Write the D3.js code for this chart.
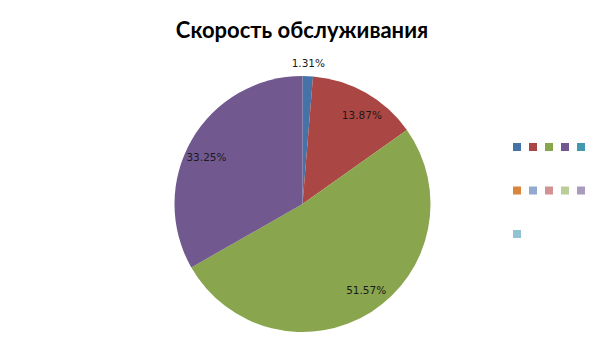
<!DOCTYPE html>
<html>
<head>
<meta charset="utf-8">
<script src="https://cdn.jsdelivr.net/npm/d3@7"></script>
<style>
  body { margin: 0; background: #fff; }
  svg { display: block; }
</style>
</head>
<body>
<div id="chart"></div>
<script>
const W = 605, H = 340

// data (legend labels are empty in the source)
const categories = ["", "", "", "", "", "", "", "", "", "", ""]
const values = [1.31, 13.87, 51.57, 33.25, 0, 0, 0, 0, 0, 0, 0]
const labels = ["1.31%", "13.87%", "51.57%", "33.25%", "", "", "", "", "", "", ""]
const colors = ["#4572a7", "#aa4643", "#89a54e", "#71588f", "#4198af", "#db843d",
  "#93a9cf", "#d19392", "#b9cd96", "#a99bbd", "#92c3d4"]

const svg = d3.select("#chart").append("svg")
  .attr("width", W)
  .attr("height", H)

// title
svg.append("text")
  .attr("x", 302)
  .attr("y", 38)
  .attr("text-anchor", "middle")
  .attr("font-family", "Lato, 'Open Sans', sans-serif")
  .attr("font-weight", "bold")
  .attr("font-size", "22px")
  .attr("fill", "#000")
  .text("Скорость обслуживания")

const R = 128
const g = svg.append("g")
  .attr("transform", "translate(302.5, 204)")

const color = d3.scaleOrdinal().domain(d3.range(categories.length)).range(colors)

const pie = d3.pie()
  .sort(null)
  .value(d => d.v)

const data = values.map((v, i) => ({ v: v, i: i, label: labels[i] }))
const arcs = pie(data)

const arc = d3.arc().innerRadius(0).outerRadius(R)

// label position: inside labels pushed a little toward the horizontal,
// small slices get their label outside
function labelPos(d) {
  const mid = (d.startAngle + d.endAngle) / 2
  let a = mid, r = 141
  if (d.data.v >= 5) {
    r = 107
    a = mid + Math.sign(Math.sin(2 * mid)) * 4 * Math.PI / 180
  }
  return [r * Math.sin(a), -r * Math.cos(a)]
}

g.selectAll("path.slice")
  .data(arcs.filter(d => d.data.v > 0))
  .enter().append("path")
  .attr("class", "slice")
  .attr("d", arc)
  .attr("fill", d => color(d.data.i))

g.selectAll("text.lbl")
  .data(arcs.filter(d => d.data.v > 0))
  .enter().append("text")
  .attr("class", "lbl")
  .attr("transform", d => `translate(${labelPos(d)})`)
  .attr("dy", "0.35em")
  .attr("text-anchor", "middle")
  .attr("font-family", "'DejaVu Sans', sans-serif")
  .attr("font-size", "10.5px")
  .attr("fill", "#1a1a1a")
  .text(d => d.data.label)

// legend: 5 per row
const col = d3.scaleLinear().domain([0, 1]).range([513, 529])
const row = d3.scaleLinear().domain([0, 1]).range([143, 186.5])

const legend = svg.selectAll("g.leg")
  .data(categories)
  .enter().append("g")
  .attr("class", "leg")
  .attr("transform", (d, i) => `translate(${col(i % 5)}, ${row(Math.floor(i / 5))})`)

legend.append("rect")
  .attr("width", 8)
  .attr("height", 8)
  .attr("fill", (d, i) => color(i))

legend.append("text")
  .attr("x", 10)
  .attr("y", 7)
  .attr("font-size", "10px")
  .text(d => d)
</script>
</body>
</html>
